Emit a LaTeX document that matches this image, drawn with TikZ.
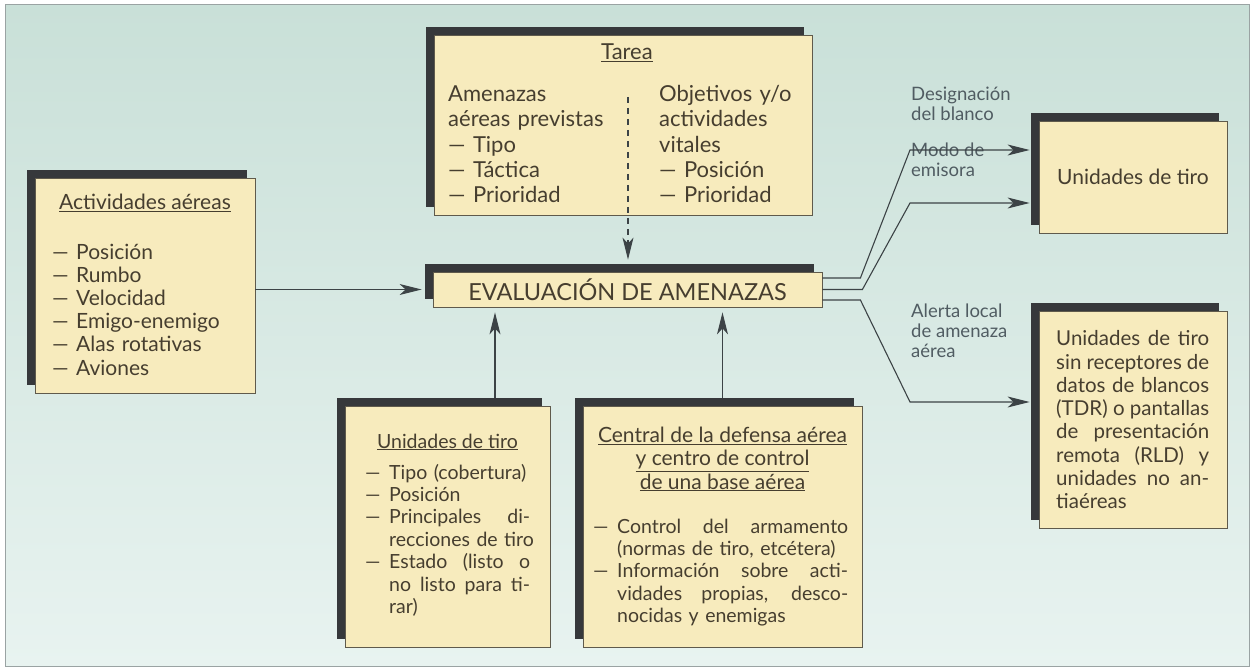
\documentclass[tikz,border=0pt]{standalone}
\usepackage{fontspec}
\setmainfont{Lato}
\usepackage{xcolor}
\usepackage{tikz}
\usetikzlibrary{arrows.meta,shadows}

\definecolor{paper}{HTML}{F7EBBD}
\definecolor{ink}{HTML}{463E2F}
\definecolor{shadowgray}{HTML}{36383B}
\definecolor{edge}{HTML}{5F5A4C}
\definecolor{wirecol}{HTML}{3C4346}
\definecolor{notecol}{HTML}{505C62}
\definecolor{skyA}{HTML}{C9E0D8}
\definecolor{skyB}{HTML}{E8F3F0}
\definecolor{framecol}{HTML}{9AA3A3}

\newcommand{\boxfont}{\fontsize{21}{23.2}\selectfont}
\newcommand{\tdrfont}{\fontsize{20.5}{23.3}\selectfont}
\newcommand{\tareafont}{\fontsize{22}{25.3}\selectfont}
\newcommand{\lowfont}{\fontsize{19.5}{22.4}\selectfont}
\newcommand{\notefont}{\fontsize{18.5}{20}\selectfont}
\newcommand{\evalfont}{\fontsize{23.5}{26}\selectfont}
\newcommand{\guion}{\makebox[24pt][l]{—}}
\newcommand{\sangria}{\hspace*{24pt}}
\newcommand{\fila}[2]{{\spaceskip=0pt\xspaceskip=0pt\makebox[#1][s]{#2}}}

\begin{document}
\begin{tikzpicture}[x=1pt,y=-1pt,
    panel/.style={draw=edge,line width=0.8pt,fill=paper,inner sep=0pt,text=ink,
        drop shadow={shadow xshift=-8pt,shadow yshift=8pt,opacity=1,fill=shadowgray}},
    head/.style={anchor=base,text=ink,font=\boxfont,inner sep=0pt},
    body/.style={anchor=base west,text=ink,font=\boxfont,inner sep=0pt,align=left,text width=280pt},
    note/.style={anchor=base west,text=notecol,font=\notefont,align=left,inner sep=0pt},
    wire/.style={draw=wirecol,line width=1.1pt,-{Stealth[length=22pt,width=11pt,inset=6pt]}}]
        \useasboundingbox (0,0) rectangle (1252,668);
        \fill[white] (0,0) rectangle (1252,668);
        \shade[top color=skyA,bottom color=skyB] (5,5) rectangle (1249,666);
        \draw[framecol,line width=1pt] (5,5) rectangle (1249,666);

        \node[panel,minimum width=378pt,minimum height=180pt] (tarea) at (623,125) {};
        \node[panel,minimum width=220pt,minimum height=215pt] (activ) at (145,285.5) {};
        \node[panel,minimum width=389pt,minimum height=35pt,font=\evalfont] (eval) at (627.5,289.5) {EVALUACIÓN DE AMENAZAS};
        \node[panel,minimum width=188pt,minimum height=112pt,font=\boxfont] (tiro) at (1133,177) {Unidades de tiro};
        \node[panel,minimum width=188pt,minimum height=217pt] (tdr) at (1133,419.5) {};
        \node[panel,minimum width=205pt,minimum height=241pt] (unid) at (447.5,526.5) {};
        \node[panel,minimum width=279pt,minimum height=241pt] (central) at (722.5,526.5) {};

        \node[head,font=\tareafont] (tareahead) at (627,60) {\underline{Tarea}};
        \node[body,font=\tareafont,text width=170pt] (amenazas) at (448,101.7) {Amenazas\\aéreas previstas\\— Tipo\\— Táctica\\— Prioridad};
        \node[body,font=\tareafont,text width=150pt] (objetivos) at (659,101.7) {Objetivos y/o\\actividades\\vitales\\— Posición\\— Prioridad};
        \coordinate (split) at (628,97);

        \node[head] (activhead) at (145,210) {\underline{Actividades aéreas}};
        \node[body] (activlist) at (52,259) {\guion Posición\\\guion Rumbo\\\guion Velocidad\\\guion Emigo-enemigo\\\guion Alas rotativas\\\guion Aviones};

        \node[head,font=\lowfont] (unidhead) at (447.5,448) {\underline{Unidades de tiro}};
        \node[body,font=\lowfont] (unidlist) at (365,479) {\guion Tipo (cobertura)\\
            \guion Posición\\
            \guion\fila{141pt}{Principales di-}\\
            \sangria recciones de tiro\\
            \guion\fila{141pt}{Estado (listo o}\\
            \sangria\fila{141pt}{no listo para ti-}\\
            \sangria rar)};

        \node[head,align=center] (centralhead) at (722.5,489) {\underline{Central de la defensa aérea}\\\underline{y centro de control}\\\underline{de una base aérea}};
        \node[body,font=\lowfont] (centrallist) at (593,533) {\guion\fila{231pt}{Control del armamento}\\
            \sangria(normas de tiro, etcétera)\\
            \guion\fila{231pt}{Información sobre acti-}\\
            \sangria\fila{231pt}{vidades propias, desco-}\\
            \sangria nocidas y enemigas};

        \node[body,font=\tdrfont] (tdrtext) at (1056,345.7) {\fila{153pt}{Unidades de tiro}\\
            \fila{153pt}{sin receptores de}\\
            \fila{153pt}{datos de blancos}\\
            \fila{153pt}{(TDR) o pantallas}\\
            \fila{153pt}{de presentación}\\
            \fila{153pt}{remota (RLD) y}\\
            \fila{153pt}{unidades no an-}\\
            tiaéreas};

        \node[note] (desig) at (911,120.7) {Designación\\del blanco};
        \node[note] (modo) at (911,177) {Modo de\\emisora};
        \node[note] (alerta) at (911,357) {Alerta local\\de amenaza\\aérea};
        \coordinate (kneeA) at (910,150);
        \coordinate (kneeB) at (910,203);
        \coordinate (kneeC) at (910,402);

        \draw[wire,shorten >=11pt] (activ.east |- eval.west) -- (eval.west);
        \draw[wire,dash pattern=on 6pt off 5pt,shorten >=12pt] (split) -- (split |- eval.north);
        \draw[wire,shorten >=5pt] ([xshift=47.5pt,yshift=8pt]unid.north) -- ([xshift=47.5pt]unid.north |- eval.south);
        \draw[wire,shorten >=5pt] ([yshift=8pt]central.north) -- (central.north |- eval.south);
        \draw[wire,shorten >=9pt] ([yshift=11.5pt]eval.east) -- ++(38,0) -- (kneeA) -- (kneeA -| tiro.west);
        \draw[wire,shorten >=9pt] (eval.east) -- ++(40,0) -- (kneeB) -- (kneeB -| tiro.west);
        \draw[wire,shorten >=9pt] ([yshift=-10.5pt]eval.east) -- ++(38,0) -- (kneeC) -- (kneeC -| tdr.west);
    \end{tikzpicture}
\end{document}
